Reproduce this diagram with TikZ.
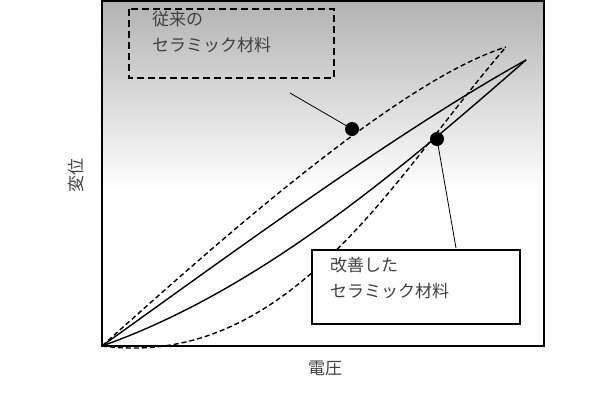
\documentclass[tikz,border=0pt]{standalone}
\usepackage{fontspec}
\setmainfont{Noto Sans CJK JP}
\begin{document}
\begin{tikzpicture}[x=1pt,y=-1pt,
  lbl/.style={font=\fontsize{17}{26}\selectfont,text=black!75,align=left,anchor=north west,inner sep=0},
  ax/.style={font=\fontsize{17}{20}\selectfont,text=black!75},
  dsh/.style={line width=1.4pt,dash pattern=on 5pt off 3pt}]
\useasboundingbox (0,0) rectangle (600,400);
\shade[top color=black!30,bottom color=white] (102,1) rectangle (544,190);
\draw[line width=1.3pt] (102,1) rectangle (544,346);
\coordinate (o) at (102,346);
\coordinate (d) at (506,47);
\coordinate (s) at (526,60);
\draw[line width=1.4pt] (o) .. controls (250,240) and (400,130) .. (s);
\draw[line width=1.4pt] (o) .. controls (260,290) and (400,170) .. (s);
\draw[dsh] (o) .. controls (220,240) and (400,80) .. (d);
\draw[dsh] (o) .. controls (290,370) and (395,175) .. (d);
\node[circle,fill,inner sep=0,minimum size=14pt] (p1) at (352,129) {};
\node[circle,fill,inner sep=0,minimum size=14pt] (p2) at (437,139) {};
\coordinate (c1) at (290,93);
\coordinate (c2) at (456,248);
\draw[line width=0.8pt] (c1) -- (p1.center);
\draw[line width=0.8pt] (p2.center) -- (c2);
\draw[line width=1.8pt,dash pattern=on 7pt off 4pt] (129,9) rectangle (334,78);
\node[lbl] (t1) at (152,11) {従来の\\セラミック材料};
\draw[line width=1.3pt,fill=white] (312,250) rectangle (520,324);
\node[lbl] (t2) at (330,257) {改善した\\セラミック材料};
\node[ax,rotate=90] (yl) at (76,175) {変位};
\node[ax] (xl) at (325,368) {電圧};
\end{tikzpicture}
\end{document}
